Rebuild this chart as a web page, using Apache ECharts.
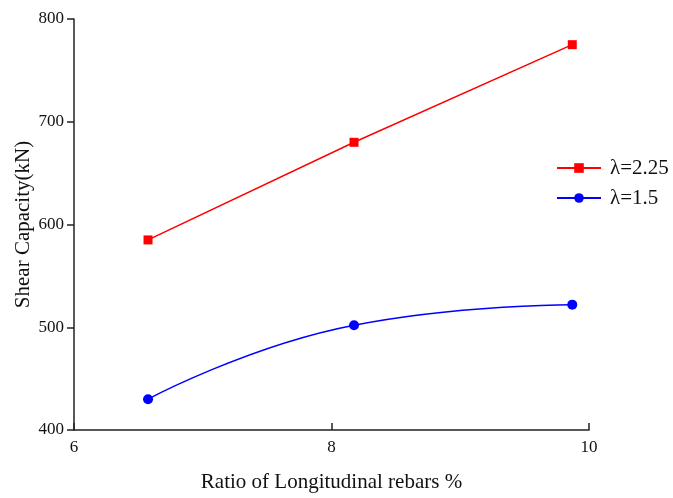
<!DOCTYPE html>
<html>
<head>
<meta charset="utf-8">
<script src="https://cdn.jsdelivr.net/npm/echarts@6/dist/echarts.min.js"></script>
<style>html,body{margin:0;padding:0;background:#fff;overflow:hidden}#c{width:673px;height:498px}</style>
</head>
<body>
<div id="c"></div>
<script>
const xRatio = [6.575, 8.175, 9.87];
const lambda225 = [585, 680, 775];
const lambda15 = [430, 502, 522];
const seriesNames = ['λ=2.25', 'λ=1.5'];
const xTitle = 'Ratio of Longitudinal rebars %';
const yTitle = 'Shear Capacity(kN)';

const font = '"Liberation Serif", "Times New Roman", serif';
const chart = echarts.init(document.getElementById('c'), null, {renderer: 'canvas'});
chart.setOption({
  animation: false,
  backgroundColor: '#fff',
  grid: {left: 74, right: 84, top: 19, bottom: 64, containLabel: false},
  legend: {
    left: 556, top: 157, orient: 'vertical', padding: 0,
    itemWidth: 44, itemHeight: 12, itemGap: 8,
    textStyle: {fontFamily: font, fontSize: 21, lineHeight: 22, color: '#111', padding: [0, 0, 0, 4]},
    data: seriesNames
  },
  xAxis: {
    type: 'value', min: 6, max: 10, interval: 2,
    name: xTitle, nameLocation: 'middle', nameGap: 42, nameMoveOverlap: false,
    nameTextStyle: {fontFamily: font, fontSize: 21, color: '#111'},
    axisLine: {show: true, lineStyle: {color: '#222', width: 1.5}},
    axisTick: {show: true, inside: true, length: 7, lineStyle: {color: '#222', width: 1.5}},
    axisLabel: {fontFamily: font, fontSize: 17, color: '#111', margin: 9},
    splitLine: {show: false}
  },
  yAxis: {
    type: 'value', min: 400, max: 800, interval: 100,
    name: yTitle, nameLocation: 'middle', nameGap: 40, nameMoveOverlap: false,
    nameTextStyle: {fontFamily: font, fontSize: 21, color: '#111'},
    axisLine: {show: true, lineStyle: {color: '#222', width: 1.5}},
    axisTick: {show: true, inside: false, length: 7, lineStyle: {color: '#222', width: 1.5}},
    axisLabel: {fontFamily: font, fontSize: 17, color: '#111', margin: 10},
    splitLine: {show: false}
  },
  series: [
    {
      name: seriesNames[0], type: 'line',
      data: xRatio.map((x, i) => [x, lambda225[i]]),
      symbol: 'rect', symbolSize: 9,
      itemStyle: {color: '#ff0000'},
      lineStyle: {color: '#ff0000', width: 1.5}
    },
    {
      name: seriesNames[1], type: 'line',
      data: xRatio.map((x, i) => [x, lambda15[i]]),
      symbol: 'circle', symbolSize: 10, smooth: 0.5,
      itemStyle: {color: '#0000ff'},
      lineStyle: {color: '#0000ff', width: 1.5}
    }
  ]
});
</script>
</body>
</html>
